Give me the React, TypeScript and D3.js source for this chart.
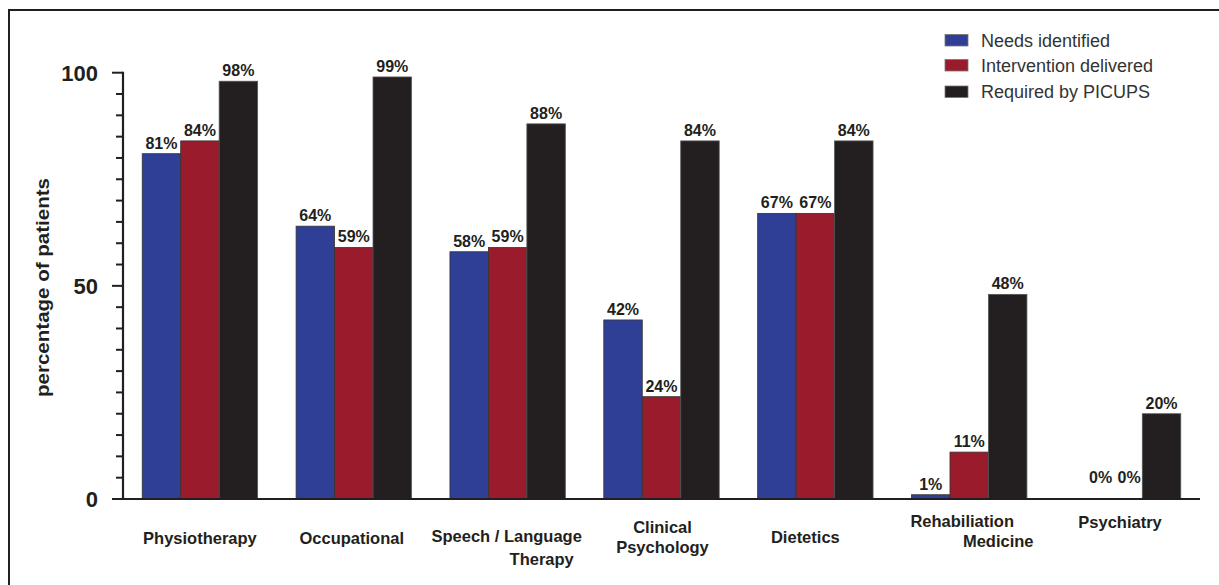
import * as d3 from 'd3';

// Chart values
const categories = [
  'Physiotherapy',
  'Occupational',
  'Speech / Language Therapy',
  'Clinical Psychology',
  'Dietetics',
  'Rehabiliation Medicine',
  'Psychiatry',
];
const categoryLines = [
  ['Physiotherapy'],
  ['Occupational'],
  ['Speech / Language', 'Therapy'],
  ['Clinical', 'Psychology'],
  ['Dietetics'],
  ['Rehabiliation', 'Medicine'],
  ['Psychiatry'],
];
const seriesNames = ['Needs identified', 'Intervention delivered', 'Required by PICUPS'];
const needsIdentified = [81, 64, 58, 42, 67, 1, 0];
const interventionDelivered = [84, 59, 59, 24, 67, 11, 0];
const requiredByPicups = [98, 99, 88, 84, 84, 48, 20];
const yTickLabels = [0, 50, 100];

const seriesValues = [needsIdentified, interventionDelivered, requiredByPicups];
const seriesColors = ['#2f3f96', '#9a1b2c', '#231f20'];

const W = 1219;
const H = 585;
const FONT = "'Liberation Sans', Arial, Helvetica, sans-serif";
const INK = '#231f20';

// hand placement of the category labels (dx, dy below the baseline per line)
const labelLayout = [
  [[0, 45]],
  [[-2, 45]],
  [[-1, 43], [34, 66]],
  [[1, 34], [1, 54]],
  [[-10, 44]],
  [[-7, 28], [29, 48]],
  [[-3, 29]],
];

export default function App() {
  const x0 = d3.scaleBand<string>()
    .domain(categories)
    .range([123, 1200])
    .paddingInner(0.25)
    .paddingOuter(0.125);
  const x1 = d3.scaleBand<number>()
    .domain([0, 1, 2])
    .range([0, x0.bandwidth()]);
  const y = d3.scaleLinear().domain([0, 100]).range([499, 72.7]);
  const minorTicks = d3.range(0, 101, 5);

  return (
    <svg width={W} height={H} style={{ position: 'absolute', left: 0, top: 0, background: '#fff' }}
      fontFamily={FONT}>
      <rect x={0} y={0} width={W} height={H} fill="#fff" />
      {/* frame */}
      <path d={`M9,${H + 5} V10 H${W + 5}`} fill="none" stroke={INK} strokeWidth={2} />

      {/* bars */}
      {categories.map((c, i) => (
        <g key={c} transform={`translate(${x0(c)},0)`}>
          {seriesValues.map((vals, s) => {
            const v = vals[i];
            const bx = x1(s)!;
            const top = y(v);
            return (
              <g key={s}>
                {v > 0 && (
                  <rect x={bx} y={top} width={x1.bandwidth()} height={y(0) - top}
                    fill={seriesColors[s]} stroke={s === 2 ? '#555' : '#333'} strokeWidth={0.8} />
                )}
                <text
                  x={bx + x1.bandwidth() / 2 + (v === 0 ? (s === 0 ? 16 : 6) : 0)}
                  y={top - (v === 0 ? 16 : 5)}
                  textAnchor="middle" fontSize={16} fontWeight="bold" fill={INK}>
                  {`${v}%`}
                </text>
              </g>
            );
          })}
        </g>
      ))}

      {/* x axis line */}
      <line x1={122} x2={1200} y1={y(0)} y2={y(0)} stroke={INK} strokeWidth={2} />

      {/* y axis */}
      <line x1={123} x2={123} y1={y(100) - 1} y2={y(0) + 1} stroke={INK} strokeWidth={2.2} />
      {minorTicks.map((t) => (
        <line key={t} x1={yTickLabels.includes(t) ? 112 : 116} x2={123} y1={y(t)} y2={y(t)}
          stroke={INK} strokeWidth={2} />
      ))}
      {yTickLabels.map((t) => (
        <text key={t} x={98} y={y(t) + 8} textAnchor="end" fontSize={22} fontWeight="bold" fill={INK}>
          {t}
        </text>
      ))}
      <text transform={`translate(49,${287.5}) rotate(-90)`} textAnchor="middle"
        fontSize={18.5} fontWeight="bold" fill={INK} textLength={219} lengthAdjust="spacingAndGlyphs">
        percentage of patients
      </text>

      {/* category labels */}
      {categories.map((c, i) => (
        <g key={c}>
          {categoryLines[i].map((line, k) => (
            <text key={k}
              x={x0(c)! + x0.bandwidth() / 2 + labelLayout[i][k][0]}
              y={y(0) + labelLayout[i][k][1]}
              textAnchor="middle" fontSize={16.5} fontWeight="bold" fill={INK}>
              {line}
            </text>
          ))}
        </g>
      ))}

      {/* legend */}
      {seriesNames.map((name, s) => {
        const base = [46.5, 71.5, 98][s];
        return (
          <g key={name}>
            <rect x={945} y={base - 12} width={23} height={11.5} fill={seriesColors[s]}
              stroke="#777" strokeWidth={0.8} />
            <text x={981} y={base} fontSize={18} fill="#333">{name}</text>
          </g>
        );
      })}
    </svg>
  );
}
